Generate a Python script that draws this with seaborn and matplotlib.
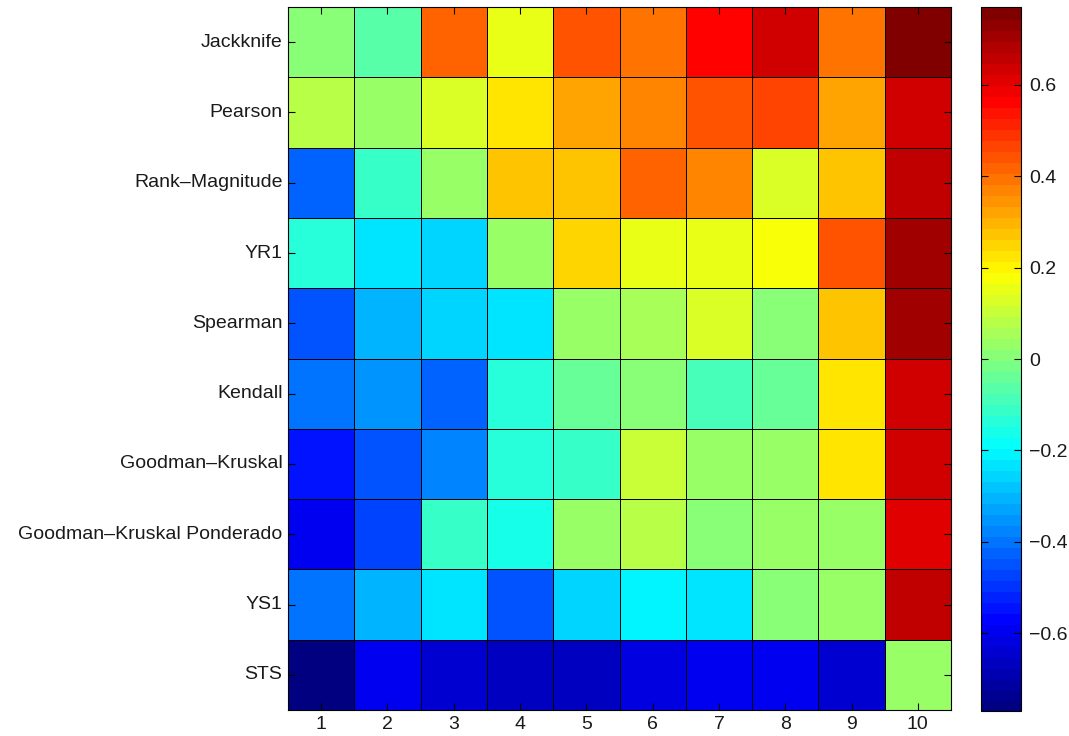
import numpy as np
import pandas as pd
import matplotlib
matplotlib.use("Agg")
import matplotlib.pyplot as plt
from matplotlib.colors import LinearSegmentedColormap
import seaborn as sns

# Row labels (methods) and column labels
methods = ["Jackknife", "Pearson", "Rank\u2013Magnitude", "YR1", "Spearman", "Kendall",
           "Goodman\u2013Kruskal", "Goodman\u2013Kruskal Ponderado", "YS1", "STS"]
columns = ["1", "2", "3", "4", "5", "6", "7", "8", "9", "10"]

jackknife = [0.02, -0.065, 0.42, 0.165, 0.45, 0.40, 0.56, 0.63, 0.40, 0.77]
pearson = [0.096, 0.03, 0.143, 0.24, 0.316, 0.37, 0.45, 0.47, 0.32, 0.63]
rank_magnitude = [-0.42, -0.115, 0.03, 0.27, 0.27, 0.42, 0.37, 0.14, 0.27, 0.655]
yr1 = [-0.14, -0.23, -0.25, 0.03, 0.25, 0.165, 0.165, 0.19, 0.45, 0.72]
spearman = [-0.45, -0.31, -0.25, -0.22, 0.03, 0.065, 0.14, 0.0, 0.27, 0.705]
kendall = [-0.40, -0.35, -0.41, -0.14, -0.04, 0.01, -0.09, -0.04, 0.22, 0.64]
goodman_kruskal = [-0.55, -0.45, -0.37, -0.14, -0.115, 0.116, 0.03, 0.03, 0.24, 0.64]
gk_ponderado = [-0.60, -0.47, -0.115, -0.165, 0.03, 0.077, 0.0, 0.03, 0.03, 0.605]
ys1 = [-0.40, -0.31, -0.24, -0.435, -0.25, -0.20, -0.22, 0.01, 0.03, 0.655]
sts = [-0.77, -0.60, -0.63, -0.67, -0.665, -0.616, -0.60, -0.58, -0.635, 0.03]

colorbar_ticks = [-0.6, -0.4, -0.2, 0, 0.2, 0.4, 0.6]

data = pd.DataFrame(
    [jackknife, pearson, rank_magnitude, yr1, spearman, kendall,
     goodman_kruskal, gk_ponderado, ys1, sts],
    index=methods, columns=columns)

sns.set_style("white")
plt.rcParams["font.family"] = ["Liberation Sans", "DejaVu Sans"]
plt.rcParams["font.size"] = 14

# Classic MATLAB-style jet with 64 levels
jet_segments = {
    "red":   [(0.0, 0.0, 0.0), (0.375, 0.0, 0.0), (0.625, 1.0, 1.0),
              (0.875, 1.0, 1.0), (1.0, 0.5, 0.5)],
    "green": [(0.0, 0.0, 0.0), (0.125, 0.0, 0.0), (0.375, 1.0, 1.0),
              (0.625, 1.0, 1.0), (0.875, 0.0, 0.0), (1.0, 0.0, 0.0)],
    "blue":  [(0.0, 0.5, 0.5), (0.125, 1.0, 1.0), (0.375, 1.0, 1.0),
              (0.625, 0.0, 0.0), (1.0, 0.0, 0.0)],
}
cmap = LinearSegmentedColormap("jet64", jet_segments, N=64)
vmin, vmax = -0.77, 0.77

fig = plt.figure(figsize=(10.69, 7.36), dpi=100)
W, H = 1069, 736
ax = fig.add_axes([288 / W, 1 - 710 / H, (951 - 288) / W, (710 - 7) / H])
cax = fig.add_axes([981 / W, 1 - 711 / H, (1021 - 981) / W, (711 - 7) / H])

sns.heatmap(data, ax=ax, cbar_ax=cax, cmap=cmap, vmin=vmin, vmax=vmax,
            linewidths=0.5, linecolor="black",
            cbar_kws={"ticks": colorbar_ticks})

ax.set_axisbelow(False)
for spine in ax.spines.values():
    spine.set_visible(True)
    spine.set_color("black")
    spine.set_linewidth(0.8)

ax.tick_params(axis="both", direction="in", length=5, width=0.8, color="black",
               top=True, right=True, bottom=True, left=True,
               labeltop=False, labelright=False,
               labelsize=14, pad=4, labelcolor="#1a1a1a")
ax.set_yticklabels(methods, rotation=0)
ax.set_xticklabels(columns, rotation=0)
ax.set_xlabel("")
ax.set_ylabel("")

cbar = ax.collections[0].colorbar
cbar.solids.set_edgecolor("face")
cbar.outline.set_visible(True)
cbar.outline.set_edgecolor("black")
cbar.outline.set_linewidth(0.8)
cbar.ax.set_axisbelow(False)
cbar.ax.tick_params(direction="in", length=5, width=0.8, color="black",
                    left=True, right=True, labelsize=14, pad=6, labelcolor="#1a1a1a")
cbar.ax.set_yticklabels(["\u22120.6", "\u22120.4", "\u22120.2", "0", "0.2", "0.4", "0.6"])

fig.savefig("out.png", dpi=100)
